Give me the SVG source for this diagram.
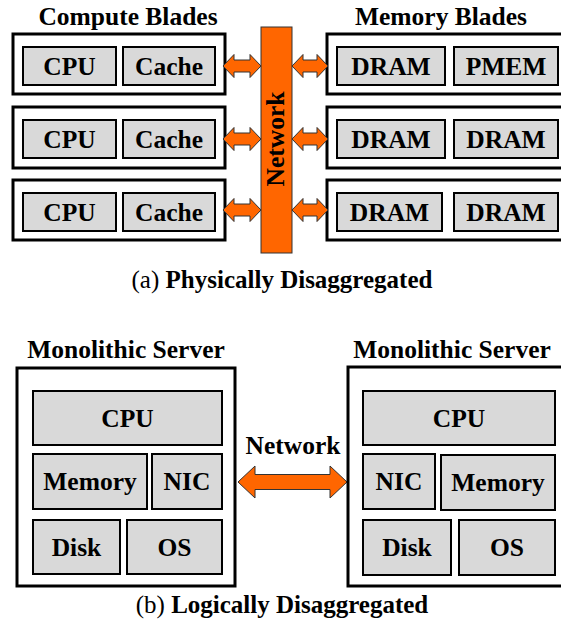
<svg xmlns="http://www.w3.org/2000/svg" width="561" height="628" viewBox="0 0 561 628">
  <style>
    .outer { fill: #ffffff; stroke: #000000; stroke-width: 3; }
    .part { fill: #d9d9d9; stroke: #000000; stroke-width: 2; }
    .lbl { font-family: "Liberation Serif", "Times New Roman", serif; font-weight: bold; font-size: 25.5px; fill: #000000; text-anchor: middle; }
    .cap { font-family: "Liberation Serif", "Times New Roman", serif; font-size: 25px; fill: #000000; text-anchor: middle; }
    .net { fill: #ff6600; stroke: #333333; stroke-width: 1; }
  </style>
  <rect width="561" height="628" fill="#ffffff"/>

  <!-- Section (a): physically disaggregated -->
  <text class="lbl" x="128" y="25">Compute Blades</text>
  <text class="lbl" x="441" y="25">Memory Blades</text>

  <g id="compute-blade-1">
    <rect class="outer" x="13" y="34" width="212" height="60"/>
    <rect class="part" x="23" y="47" width="93" height="38"/>
    <rect class="part" x="123" y="47" width="92" height="38"/>
    <text class="lbl" x="69.5" y="75">CPU</text>
    <text class="lbl" x="169" y="75">Cache</text>
  </g>
  <g id="compute-blade-2">
    <rect class="outer" x="13" y="107" width="212" height="61"/>
    <rect class="part" x="23" y="120" width="93" height="38"/>
    <rect class="part" x="123" y="120" width="92" height="38"/>
    <text class="lbl" x="69.5" y="148">CPU</text>
    <text class="lbl" x="169" y="148">Cache</text>
  </g>
  <g id="compute-blade-3">
    <rect class="outer" x="13" y="180" width="212" height="60"/>
    <rect class="part" x="23" y="193" width="93" height="38"/>
    <rect class="part" x="123" y="193" width="92" height="38"/>
    <text class="lbl" x="69.5" y="221">CPU</text>
    <text class="lbl" x="169" y="221">Cache</text>
  </g>

  <g id="memory-blade-1">
    <rect class="outer" x="327" y="34" width="240" height="60"/>
    <rect class="part" x="337" y="47" width="108" height="38"/>
    <rect class="part" x="454" y="47" width="104" height="38"/>
    <text class="lbl" x="391" y="75">DRAM</text>
    <text class="lbl" x="506" y="75">PMEM</text>
  </g>
  <g id="memory-blade-2">
    <rect class="outer" x="327" y="107" width="240" height="61"/>
    <rect class="part" x="337" y="120" width="108" height="38"/>
    <rect class="part" x="454" y="120" width="104" height="38"/>
    <text class="lbl" x="391" y="148">DRAM</text>
    <text class="lbl" x="506" y="148">DRAM</text>
  </g>
  <g id="memory-blade-3">
    <rect class="outer" x="327" y="180" width="240" height="60"/>
    <rect class="part" x="337" y="193" width="105" height="38"/>
    <rect class="part" x="454" y="193" width="104" height="38"/>
    <text class="lbl" x="389.5" y="221">DRAM</text>
    <text class="lbl" x="506" y="221">DRAM</text>
  </g>

  <g id="network-bar">
    <rect class="net" x="261" y="27" width="31" height="226"/>
    <text class="lbl" transform="translate(284,139) rotate(-90)">Network</text>
  </g>

  <g id="links">
    <!-- compute side -->
    <path class="net" d="M223,66 L234,54.5 L234,60 L250,60 L250,54.5 L261,66 L250,77.5 L250,72 L234,72 L234,77.5 Z"/>
    <path class="net" d="M223,139 L234,127.5 L234,133 L250,133 L250,127.5 L261,139 L250,150.5 L250,145 L234,145 L234,150.5 Z"/>
    <path class="net" d="M223,210 L234,198.5 L234,204 L250,204 L250,198.5 L261,210 L250,221.5 L250,216 L234,216 L234,221.5 Z"/>
    <!-- memory side -->
    <path class="net" d="M292,66 L303,54.5 L303,60 L317,60 L317,54.5 L328,66 L317,77.5 L317,72 L303,72 L303,77.5 Z"/>
    <path class="net" d="M292,139 L303,127.5 L303,133 L317,133 L317,127.5 L328,139 L317,150.5 L317,145 L303,145 L303,150.5 Z"/>
    <path class="net" d="M292,210 L303,198.5 L303,204 L317,204 L317,198.5 L328,210 L317,221.5 L317,216 L303,216 L303,221.5 Z"/>
    <!-- server to server -->
    <path class="net" d="M238,482 L255,466 L255,474.5 L330,474.5 L330,466 L347,482 L330,498 L330,489.5 L255,489.5 L255,498 Z"/>
  </g>

  <text class="cap" x="282" y="288">(a) <tspan font-weight="bold">Physically Disaggregated</tspan></text>

  <!-- Section (b): logically disaggregated -->
  <text class="lbl" x="126" y="358">Monolithic Server</text>
  <text class="lbl" x="452" y="358">Monolithic Server</text>
  <text class="lbl" x="293" y="454">Network</text>

  <g id="server-left">
    <rect class="outer" x="17" y="368" width="218" height="218"/>
    <rect class="part" x="33" y="391" width="189" height="54"/>
    <rect class="part" x="33" y="454" width="114" height="55"/>
    <rect class="part" x="152" y="454" width="70" height="55"/>
    <rect class="part" x="33" y="520" width="87" height="54"/>
    <rect class="part" x="127" y="520" width="95" height="54"/>
    <text class="lbl" x="127.5" y="427">CPU</text>
    <text class="lbl" x="90" y="490">Memory</text>
    <text class="lbl" x="187" y="490">NIC</text>
    <text class="lbl" x="76.5" y="556">Disk</text>
    <text class="lbl" x="174.5" y="556">OS</text>
  </g>

  <g id="server-right">
    <rect class="outer" x="348" y="367" width="220" height="219"/>
    <rect class="part" x="363" y="391" width="192" height="54"/>
    <rect class="part" x="363" y="454" width="72" height="55"/>
    <rect class="part" x="441" y="455" width="114" height="55"/>
    <rect class="part" x="363" y="520" width="88" height="55"/>
    <rect class="part" x="459" y="520" width="96" height="55"/>
    <text class="lbl" x="459" y="427">CPU</text>
    <text class="lbl" x="399" y="490">NIC</text>
    <text class="lbl" x="498" y="491">Memory</text>
    <text class="lbl" x="407" y="556">Disk</text>
    <text class="lbl" x="507" y="556">OS</text>
  </g>

  <text class="cap" x="282" y="613">(b) <tspan font-weight="bold">Logically Disaggregated</tspan></text>
</svg>
